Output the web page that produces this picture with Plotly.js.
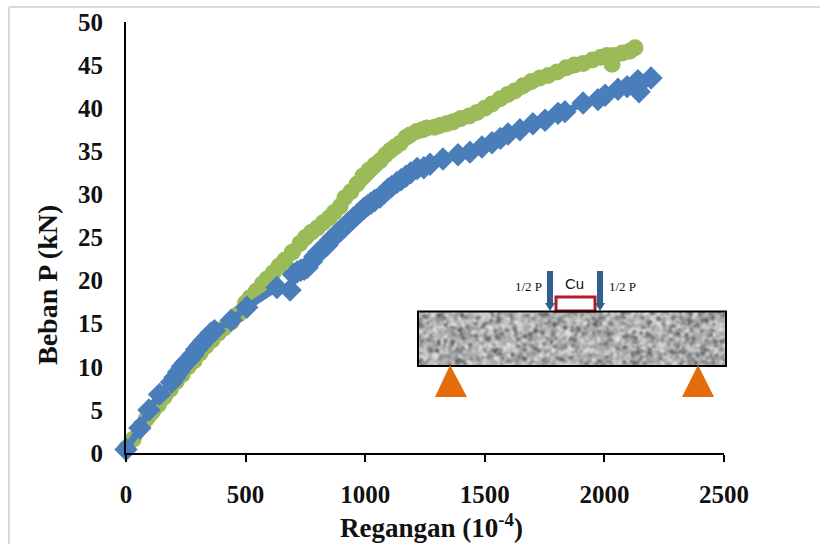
<!DOCTYPE html>
<html><head><meta charset="utf-8">
<script src="https://cdn.plot.ly/plotly-3.0.1.min.js"></script>
<style>html,body{margin:0;padding:0;background:#fff}#c{width:820px;height:544px}</style></head>
<body><div id="c"></div><script>
const greenX=[0,30,60,85,110,135,160,185,210,235,260,285,310,335,360,385,410,440,470,500,518,545,570,590,615,640,665,695,727,750,775,800,824,850,870,895,915,940,966,990,1015,1040,1062,1085,1105,1125,1145,1170,1187,1215,1240,1258,1290,1313,1340,1367,1400,1435,1467,1500,1530,1564,1595,1625,1660,1695,1730,1765,1802,1840,1875,1911,1950,1985,2011,2032,2040,2075,2105,2128];
const greenY=[0.5,1.6,3,4,4.8,5.6,6.5,7.4,8.3,9.1,10,10.7,11.6,12.4,13.1,13.9,14.5,15.2,16.1,17.4,18,18.8,19.6,20.2,20.9,21.7,22.4,23.3,24.3,25,25.6,26.1,26.7,27.3,27.9,28.6,29.6,30.3,31.2,32.1,32.8,33.4,33.9,34.6,35.1,35.5,35.9,36.6,36.9,37.3,37.5,37.7,37.8,38,38.2,38.4,38.8,39.1,39.5,40,40.5,41.1,41.6,42,42.6,43.1,43.5,43.8,44.2,44.7,45,45.2,45.6,45.9,46.1,45.1,46.1,46.4,46.6,47];
const blueX=[0,58,96,140,190,205,220,235,250,265,280,295,310,325,340,355,370,440,505,631,686,700,715,730,745,757,775,790,805,820,840,855,870,885,900,915,930,949,965,980,995,1010,1025,1040,1062,1080,1095,1110,1133,1150,1170,1190,1217,1245,1271,1325,1388,1438,1488,1530,1565,1597,1647,1701,1752,1806,1835,1911,1973,2003,2057,2095,2140,2145,2195];
const blueY=[0.4,2.9,5,6.8,8.2,8.8,9.4,10,10.5,10.9,11.4,12,12.5,13,13.4,13.9,14.2,15.4,16.9,19.2,18.9,20.7,21,21.2,21.3,21.5,22.2,22.8,23.3,23.6,24.1,24.7,25.1,25.5,25.9,26.3,26.7,27.2,27.6,28,28.4,28.7,29,29.3,29.7,30.2,30.6,30.9,31.4,31.7,32.1,32.5,33,33.1,33.5,34.1,34.6,34.9,35.5,36,36.5,37,37.5,38.2,38.6,39.4,39.6,40.6,41,41.5,42.2,42.5,43.2,41.9,43.5];
const xTicks=[0,500,1000,1500,2000,2500];
const yTicks=[0,5,10,15,20,25,30,35,40,45,50];
const W=820,H=544,L=126,R=96,T=22,B=91;
const px=x=>(x-L)/(W-L-R), py=y=>(H-B-y)/(H-T-B);
const serif='"Liberation Serif",serif';

function texture(){
  const base=document.createElement('canvas');base.width=308;base.height=55;
  const g=base.getContext('2d');g.fillStyle='#a8a8a8';g.fillRect(0,0,308,55);
  let s=12345;const r=()=>{s=(s*1103515245+12345)&0x7fffffff;return s/0x7fffffff};
  for(let i=0;i<2200;i++){
    const v=r();const c=v<0.4?Math.floor(85+v*120):Math.floor(165+v*70);
    g.fillStyle=`rgb(${c},${c},${c})`;
    g.beginPath();g.arc(r()*308,r()*55,0.8+r()*1.4,0,7);g.fill();
  }
  const out=document.createElement('canvas');out.width=308;out.height=55;
  const o=out.getContext('2d');o.filter='blur(1px)';o.drawImage(base,0,0);
  return out.toDataURL('image/png');
}
const line=(x0,y0,x1,y1,color,width)=>({type:'line',xref:'paper',yref:'paper',x0:px(x0),y0:py(y0),x1:px(x1),y1:py(y1),line:{color,width},layer:'above'});
const poly=(pts,color)=>({type:'path',xref:'paper',yref:'paper',path:'M'+pts.map(p=>px(p[0])+','+py(p[1])).join('L')+'Z',fillcolor:color,line:{width:0},layer:'above'});
const note=(text,x,y,size,font,bold)=>({xref:'paper',yref:'paper',x:px(x),y:py(y),text:bold?'<b>'+text+'</b>':text,showarrow:false,xanchor:'center',yanchor:'middle',font:{family:font||serif,size,color:'#111'}});

const shapes=[
  line(9,7,820,7,'#d9d9d9',2),
  line(9,7,9,544,'#d9d9d9',2),
  line(550,271,550,304,'#31608f',6),
  poly([[545,303],[555,303],[550,311]],'#31608f'),
  line(600,271,600,304,'#31608f',6),
  poly([[595,303],[605,303],[600,311]],'#31608f'),
  {type:'rect',xref:'paper',yref:'paper',x0:px(556),x1:px(595),y0:py(311),y1:py(297),fillcolor:'#fff',line:{color:'#b01c26',width:3},layer:'above'},
  {type:'rect',xref:'paper',yref:'paper',x0:px(418),x1:px(726),y0:py(366),y1:py(311.5),fillcolor:'rgba(0,0,0,0)',line:{color:'#000',width:2},layer:'above'},
  poly([[450,365],[435,397],[467,397]],'#e46c0a'),
  poly([[698,365],[682,397],[714,397]],'#e46c0a')
];

const data=[
 {type:'scatter',mode:'lines+markers',name:'Green',x:greenX,y:greenY,cliponaxis:false,
  line:{color:'#9bbb59',width:13},marker:{symbol:'circle',size:17,color:'#9bbb59'}},
 {type:'scatter',mode:'lines+markers',name:'Blue',x:blueX,y:blueY,cliponaxis:false,
  line:{color:'#4a7ebb',width:7},marker:{symbol:'diamond',size:18,color:'#4a7ebb'}}
];
const layout={
  width:W,height:H,margin:{l:L,r:R,t:T,b:B,pad:0},paper_bgcolor:'#fff',plot_bgcolor:'#fff',showlegend:false,
  xaxis:{range:[0,2500],tickvals:xTicks,ticks:'outside',ticklen:7,tickwidth:2,tickcolor:'#000',showgrid:false,zeroline:false,
    showline:true,linecolor:'#000',linewidth:2,ticklabelstandoff:11,tickfont:{family:serif,size:25,color:'#111',weight:'bold'}},
  yaxis:{range:[0,50],tickvals:yTicks,ticks:'',showgrid:false,zeroline:false,
    showline:true,linecolor:'#000',linewidth:2,ticklabelstandoff:16,tickfont:{family:serif,size:25,color:'#111',weight:'bold'}},
  shapes,
  images:[{source:texture(),xref:'paper',yref:'paper',x:px(418),y:py(311),sizex:px(726)-px(418),sizey:py(311)-py(366),sizing:'stretch',xanchor:'left',yanchor:'top',layer:'below'}],
  annotations:[
    note('Regangan (10<sup>-4</sup>)',431,526,27,serif,true),
    Object.assign(note('Beban P (kN)',47,285,28,serif,true),{textangle:-90}),
    note('1/2 P',528,286,13),
    note('1/2 P',622,286,13),
    note('Cu',574,283,15,'"Liberation Sans",sans-serif')
  ]
};
Plotly.newPlot('c',data,layout,{displayModeBar:false,responsive:false});
</script></body></html>
